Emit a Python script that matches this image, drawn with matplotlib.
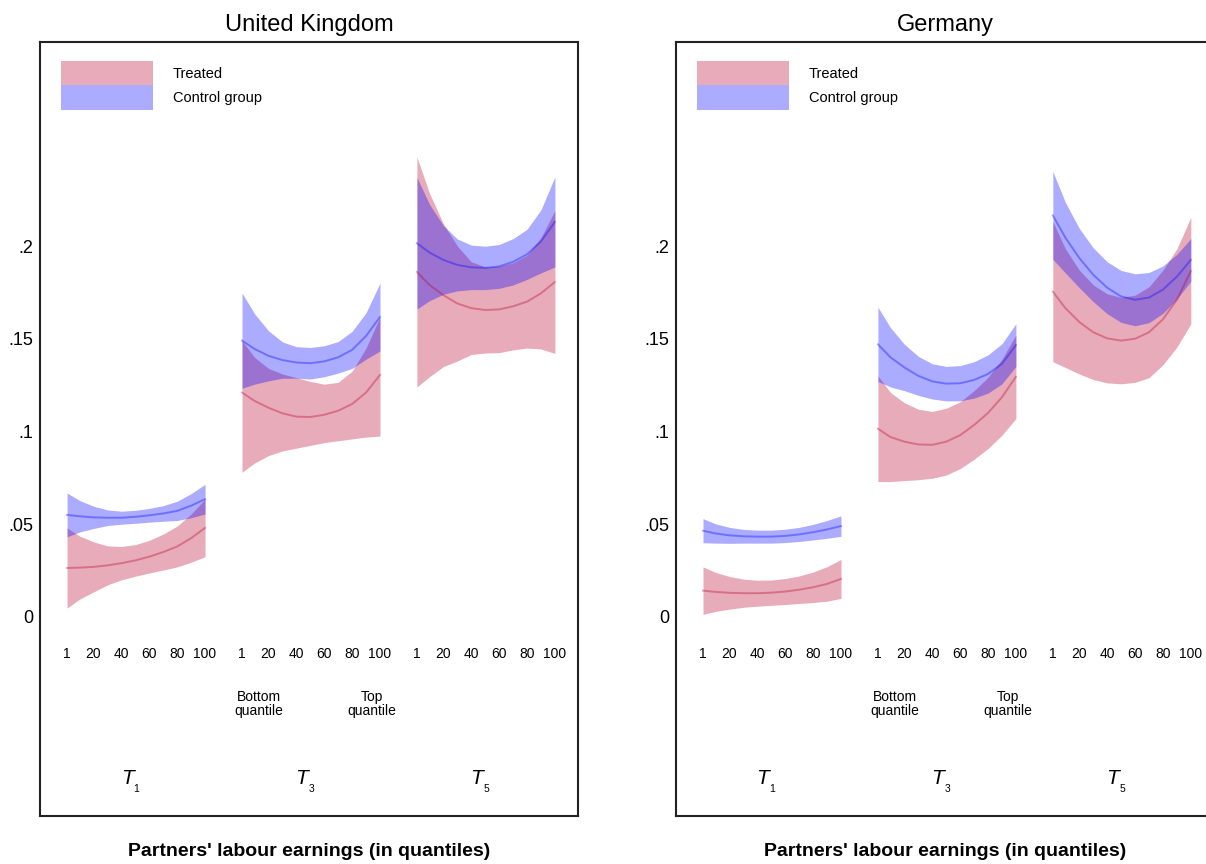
import numpy as np
import matplotlib
matplotlib.use('Agg')
import matplotlib.pyplot as plt
import matplotlib.patches as mpatches

plt.rcParams['font.family'] = ['Liberation Sans', 'DejaVu Sans']

quantiles = [1, 10, 20, 30, 40, 50, 60, 70, 80, 90, 100]
tick_quantiles = [1, 20, 40, 60, 80, 100]
tick_labels = ['1', '20', '40', '60', '80', '100']
period_subs = ['1', '3', '5']
panel_titles = ['United Kingdom', 'Germany']
yticks = [0, .05, .1, .15, .2]
ytick_labels = ['0', '.05', '.1', '.15', '.2']

# United Kingdom: fitted line, lower and upper CI, one row per period (T1, T3, T5)
uk_treat_fit = [
    [0.0264, 0.0266, 0.027, 0.0278, 0.029, 0.0305, 0.0325, 0.035, 0.038, 0.0425, 0.048],
    [0.121, 0.1165, 0.1128, 0.1098, 0.108, 0.1078, 0.109, 0.1112, 0.1148, 0.121, 0.1305],
    [0.186, 0.179, 0.1735, 0.169, 0.1665, 0.1655, 0.1658, 0.1675, 0.170, 0.1745, 0.1806],
]
uk_treat_lo = [
    [0.0048, 0.0096, 0.0135, 0.0173, 0.020, 0.022, 0.0237, 0.0253, 0.027, 0.0295, 0.0325],
    [0.078, 0.083, 0.087, 0.0895, 0.091, 0.0925, 0.094, 0.095, 0.096, 0.097, 0.0975],
    [0.124, 0.1295, 0.135, 0.138, 0.1415, 0.1423, 0.1425, 0.144, 0.145, 0.1445, 0.1421],
]
uk_treat_hi = [
    [0.048, 0.0436, 0.0405, 0.0383, 0.038, 0.039, 0.0413, 0.0447, 0.049, 0.0555, 0.0635],
    [0.149, 0.140, 0.134, 0.131, 0.129, 0.127, 0.1255, 0.1265, 0.1325, 0.145, 0.1617],
    [0.248, 0.2285, 0.212, 0.200, 0.1915, 0.1887, 0.1891, 0.191, 0.195, 0.2045, 0.2191],
]
uk_ctrl_fit = [
    [0.055, 0.0543, 0.0537, 0.0535, 0.0535, 0.054, 0.0548, 0.0558, 0.0572, 0.060, 0.0635],
    [0.149, 0.1445, 0.1408, 0.1385, 0.1372, 0.1368, 0.1378, 0.140, 0.144, 0.1515, 0.1617],
    [0.2015, 0.1965, 0.1925, 0.1898, 0.1885, 0.1882, 0.189, 0.1915, 0.1955, 0.2025, 0.213],
]
uk_ctrl_lo = [
    [0.0432, 0.0458, 0.0477, 0.0493, 0.050, 0.0505, 0.0511, 0.0516, 0.052, 0.0535, 0.0555],
    [0.1233, 0.1255, 0.1273, 0.1287, 0.1287, 0.1283, 0.1295, 0.1315, 0.134, 0.139, 0.1434],
    [0.166, 0.1705, 0.174, 0.1758, 0.1765, 0.1765, 0.1772, 0.179, 0.182, 0.1855, 0.1887],
]
uk_ctrl_hi = [
    [0.0668, 0.0628, 0.0597, 0.0577, 0.057, 0.0575, 0.0585, 0.060, 0.0624, 0.0665, 0.0715],
    [0.1747, 0.1635, 0.1543, 0.1483, 0.1457, 0.1453, 0.1462, 0.1485, 0.154, 0.164, 0.180],
    [0.237, 0.2225, 0.211, 0.2038, 0.2005, 0.1999, 0.2008, 0.204, 0.209, 0.2195, 0.2373],
]

# Germany
de_treat_fit = [
    [0.0142, 0.0135, 0.013, 0.0128, 0.0128, 0.0131, 0.0137, 0.0147, 0.016, 0.0178, 0.0205],
    [0.1015, 0.097, 0.0945, 0.093, 0.0928, 0.0945, 0.098, 0.1035, 0.110, 0.1185, 0.1295],
    [0.1754, 0.1665, 0.159, 0.1535, 0.1502, 0.149, 0.150, 0.1535, 0.1605, 0.171, 0.1865],
]
de_treat_lo = [
    [0.0014, 0.003, 0.0042, 0.0052, 0.0058, 0.0063, 0.0067, 0.0073, 0.0078, 0.0085, 0.010],
    [0.073, 0.073, 0.0735, 0.074, 0.0748, 0.0765, 0.080, 0.085, 0.0908, 0.098, 0.107],
    [0.1376, 0.1345, 0.131, 0.128, 0.1262, 0.1257, 0.1265, 0.129, 0.136, 0.1455, 0.158],
]
de_treat_hi = [
    [0.027, 0.024, 0.0218, 0.0204, 0.0198, 0.0199, 0.0207, 0.0221, 0.0242, 0.0271, 0.031],
    [0.130, 0.121, 0.1155, 0.112, 0.1108, 0.1125, 0.116, 0.122, 0.1292, 0.139, 0.152],
    [0.2132, 0.1985, 0.187, 0.179, 0.1742, 0.1723, 0.1735, 0.178, 0.187, 0.1985, 0.2155],
]
de_ctrl_fit = [
    [0.0465, 0.045, 0.044, 0.0435, 0.0433, 0.0433, 0.0437, 0.0445, 0.0457, 0.0472, 0.049],
    [0.147, 0.140, 0.1345, 0.130, 0.127, 0.1258, 0.126, 0.1278, 0.131, 0.1365, 0.1466],
    [0.2165, 0.2045, 0.1935, 0.1845, 0.1775, 0.1728, 0.171, 0.1722, 0.1765, 0.1835, 0.1925],
]
de_ctrl_lo = [
    [0.040, 0.0398, 0.0397, 0.0398, 0.0398, 0.0398, 0.0401, 0.0407, 0.0415, 0.0424, 0.0435],
    [0.127, 0.124, 0.122, 0.1195, 0.1175, 0.1165, 0.1165, 0.118, 0.1207, 0.1257, 0.1351],
    [0.1928, 0.1855, 0.1775, 0.170, 0.1635, 0.1588, 0.157, 0.1587, 0.1637, 0.1715, 0.181],
]
de_ctrl_hi = [
    [0.053, 0.0502, 0.0483, 0.0472, 0.0468, 0.0468, 0.0473, 0.0483, 0.0499, 0.052, 0.0545],
    [0.167, 0.156, 0.147, 0.1405, 0.1365, 0.1351, 0.1355, 0.1376, 0.1413, 0.1473, 0.1581],
    [0.2402, 0.2235, 0.2095, 0.199, 0.1915, 0.1868, 0.185, 0.1857, 0.1893, 0.1955, 0.204],
]

treat_color = (0.72, 0.0, 0.17)
ctrl_color = (0.0, 0.0, 1.0)
band_alpha = 0.33
group_gap = 125.5

fig = plt.figure(figsize=(12.06, 8.64), dpi=100)
ax_uk = fig.add_axes([0.0332, 0.0556, 0.4461, 0.8958])
ax_de = fig.add_axes([0.5605, 0.0556, 0.4461, 0.8958])

panels = [
    (ax_uk, (uk_treat_fit, uk_treat_lo, uk_treat_hi), (uk_ctrl_fit, uk_ctrl_lo, uk_ctrl_hi)),
    (ax_de, (de_treat_fit, de_treat_lo, de_treat_hi), (de_ctrl_fit, de_ctrl_lo, de_ctrl_hi)),
]

for p, (ax, treat, ctrl) in enumerate(panels):
    for g in range(3):
        x = np.array(quantiles) + g * group_gap
        for (fit, lo, hi), col in [(treat, treat_color), (ctrl, ctrl_color)]:
            ax.fill_between(x, lo[g], hi[g], color=col, alpha=band_alpha, lw=0)
            ax.plot(x, fit[g], color=col, alpha=0.35, lw=1.4)

        for q, lab in zip(tick_quantiles, tick_labels):
            ax.text(q + g * group_gap, -0.0199, lab, ha='center', va='center', fontsize=10)
        # period label: italic T with a small subscript
        xt = 44 + g * group_gap
        ax.text(xt, -0.087, 'T', style='italic', ha='center', va='center', fontsize=15)
        ax.annotate(period_subs[g], xy=(xt, -0.087), xytext=(4.8, -7.5),
                    textcoords='offset points', ha='left', va='center', fontsize=7.5)

    ax.text(13 + group_gap, -0.047, 'Bottom\nquantile', ha='center', va='center',
            fontsize=10, linespacing=0.95)
    ax.text(94 + group_gap, -0.047, 'Top\nquantile', ha='center', va='center',
            fontsize=10, linespacing=0.95)

    ax.set_xlim(-18.4, 367.6)
    ax.set_ylim(-0.1073, 0.310)
    ax.set_xticks([])
    ax.set_yticks(yticks)
    ax.set_yticklabels(ytick_labels)
    ax.tick_params(axis='y', length=0, pad=5, labelsize=13)
    for s in ax.spines.values():
        s.set_linewidth(1.5)
        s.set_color('#222222')
    ax.set_title(panel_titles[p], fontsize=17, pad=8)

    handles = [mpatches.Patch(facecolor=treat_color, alpha=band_alpha, lw=0, label='Treated'),
               mpatches.Patch(facecolor=ctrl_color, alpha=band_alpha, lw=0, label='Control group')]
    ax.legend(handles=handles, loc='upper left', bbox_to_anchor=(0.039, 0.9755),
              frameon=False, fontsize=10.5, borderpad=0, borderaxespad=0,
              handlelength=6.3, handleheight=2.2, labelspacing=0, handletextpad=1.37)

    fig.text((ax.get_position().x0 + ax.get_position().x1) / 2, 0.0139,
             "Partners' labour earnings (in quantiles)", ha='center', va='center',
             fontsize=14, fontweight='bold')

fig.savefig('out.png', dpi=100)
